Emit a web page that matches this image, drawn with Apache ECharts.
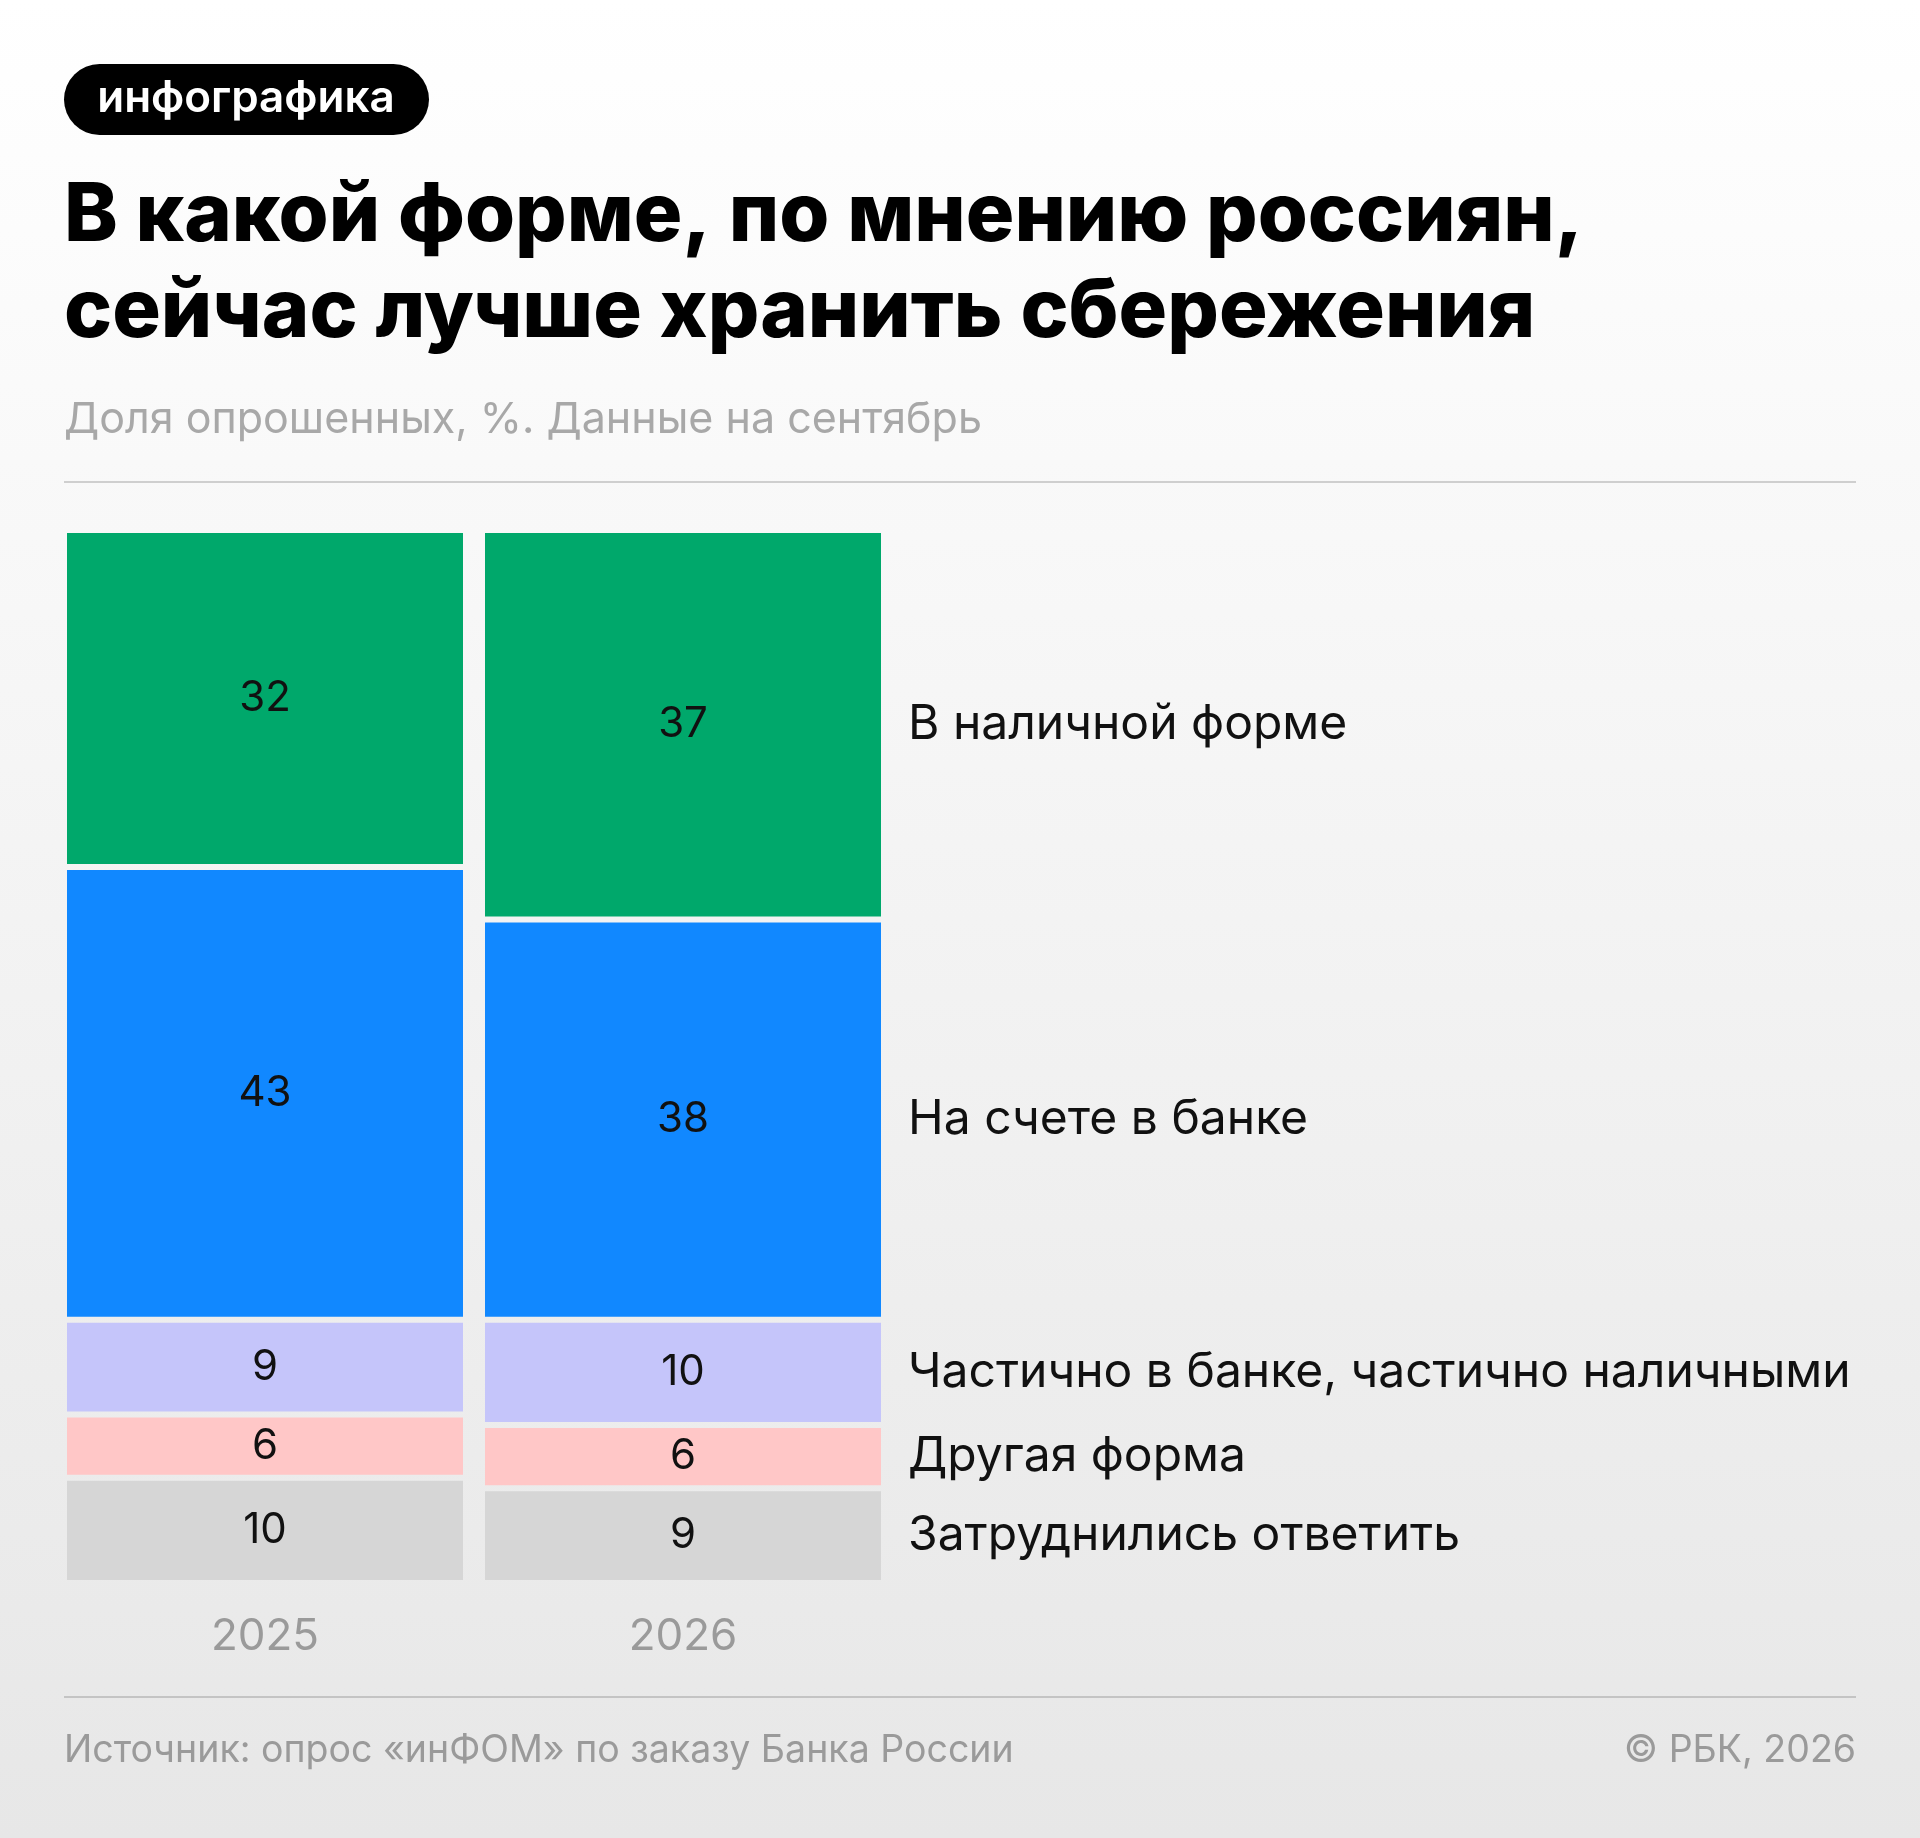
<!DOCTYPE html>
<html>
<head>
<meta charset="utf-8">
<script src="https://cdn.jsdelivr.net/npm/echarts@6/dist/echarts.min.js"></script>
<style>
  html, body { margin: 0; padding: 0; }
  #chart { width: 1920px; height: 1838px; }
</style>
</head>
<body>
<div id="chart"></div>
<script>
const years = ["2025", "2026"];
const categories = [
  "Затруднились ответить",
  "Другая форма",
  "Частично в банке, частично наличными",
  "На счете в банке",
  "В наличной форме"
];
const values2025 = [10, 6, 9, 43, 32];
const values2026 = [9, 6, 10, 38, 37];
const colors = ["#d6d6d6", "#ffc7c7", "#c5c5fa", "#1188ff", "#00a86b"];

const FONT = "Inter, 'Noto Sans', sans-serif";
const bgStops = [
  { offset: 0, color: "#ffffff" },
  { offset: 1, color: "#e7e7e7" }
];
const bgGradient = { type: "linear", x: 0, y: 0, x2: 0, y2: 1838, global: true, colorStops: bgStops };

const chart = echarts.init(document.getElementById("chart"));

let cum = 0;
const series = categories.map((name, i) => {
  const center2026 = cum + values2026[i] / 2;
  cum += values2026[i];
  return {
    name,
    type: "bar",
    stack: "total",
    barWidth: 402,
    data: [values2025[i], values2026[i]],
    itemStyle: { color: colors[i], borderColor: bgGradient, borderWidth: 3 },
    label: {
      show: true,
      position: "inside",
      color: "#111",
      fontFamily: FONT,
      fontSize: 42
    },
    markPoint: {
      symbol: "rect",
      symbolSize: [402, 1],
      itemStyle: { color: "transparent" },
      label: {
        show: true,
        position: "right",
        distance: 24,
        formatter: name,
        color: "#111",
        fontFamily: FONT,
        fontSize: 48
      },
      data: [{ coord: [1, center2026] }]
    }
  };
});

chart.setOption({
  backgroundColor: bgGradient,
  animation: false,
  grid: { left: 56, width: 836, top: 530, bottom: 255 },
  xAxis: {
    type: "category",
    data: years,
    axisLine: { show: false },
    axisTick: { show: false },
    axisLabel: { color: "#9a9a9a", fontFamily: FONT, fontSize: 44, margin: 32 }
  },
  yAxis: {
    type: "value",
    min: 0,
    max: 100,
    show: false,
    splitLine: { show: false }
  },
  series,
  graphic: [
    {
      type: "rect",
      shape: { x: 64, y: 64, width: 365, height: 71, r: 35.5 },
      style: { fill: "#000" }
    },
    {
      type: "text",
      x: 246, y: 99,
      style: {
        text: "инфографика", fill: "#fff", font: "600 44px " + FONT,
        align: "center", verticalAlign: "middle"
      }
    },
    {
      type: "text",
      x: 64, y: 217,
      style: {
        text: "В какой форме, по мнению россиян,", fill: "#000",
        font: "800 81px " + FONT, verticalAlign: "middle"
      }
    },
    {
      type: "text",
      x: 64, y: 313,
      style: {
        text: "сейчас лучше хранить сбережения", fill: "#000",
        font: "800 81px " + FONT, verticalAlign: "middle"
      }
    },
    {
      type: "text",
      x: 64, y: 420,
      style: {
        text: "Доля опрошенных, %. Данные на сентябрь", fill: "#a8a8a8",
        font: "400 43px " + FONT, verticalAlign: "middle"
      }
    },
    {
      type: "rect",
      shape: { x: 64, y: 481, width: 1792, height: 2 },
      style: { fill: "#cfcfcf" }
    },
    {
      type: "rect",
      shape: { x: 64, y: 1696, width: 1792, height: 2 },
      style: { fill: "#c4c4c4" }
    },
    {
      type: "text",
      x: 64, y: 1751,
      style: {
        text: "Источник: опрос «инФОМ» по заказу Банка России", fill: "#9a9a9a",
        font: "400 37.5px " + FONT, verticalAlign: "middle"
      }
    },
    {
      type: "text",
      x: 1856, y: 1751,
      style: {
        text: "© РБК, 2026", fill: "#9a9a9a",
        font: "400 37.5px " + FONT, align: "right", verticalAlign: "middle"
      }
    }
  ]
});
</script>
</body>
</html>
